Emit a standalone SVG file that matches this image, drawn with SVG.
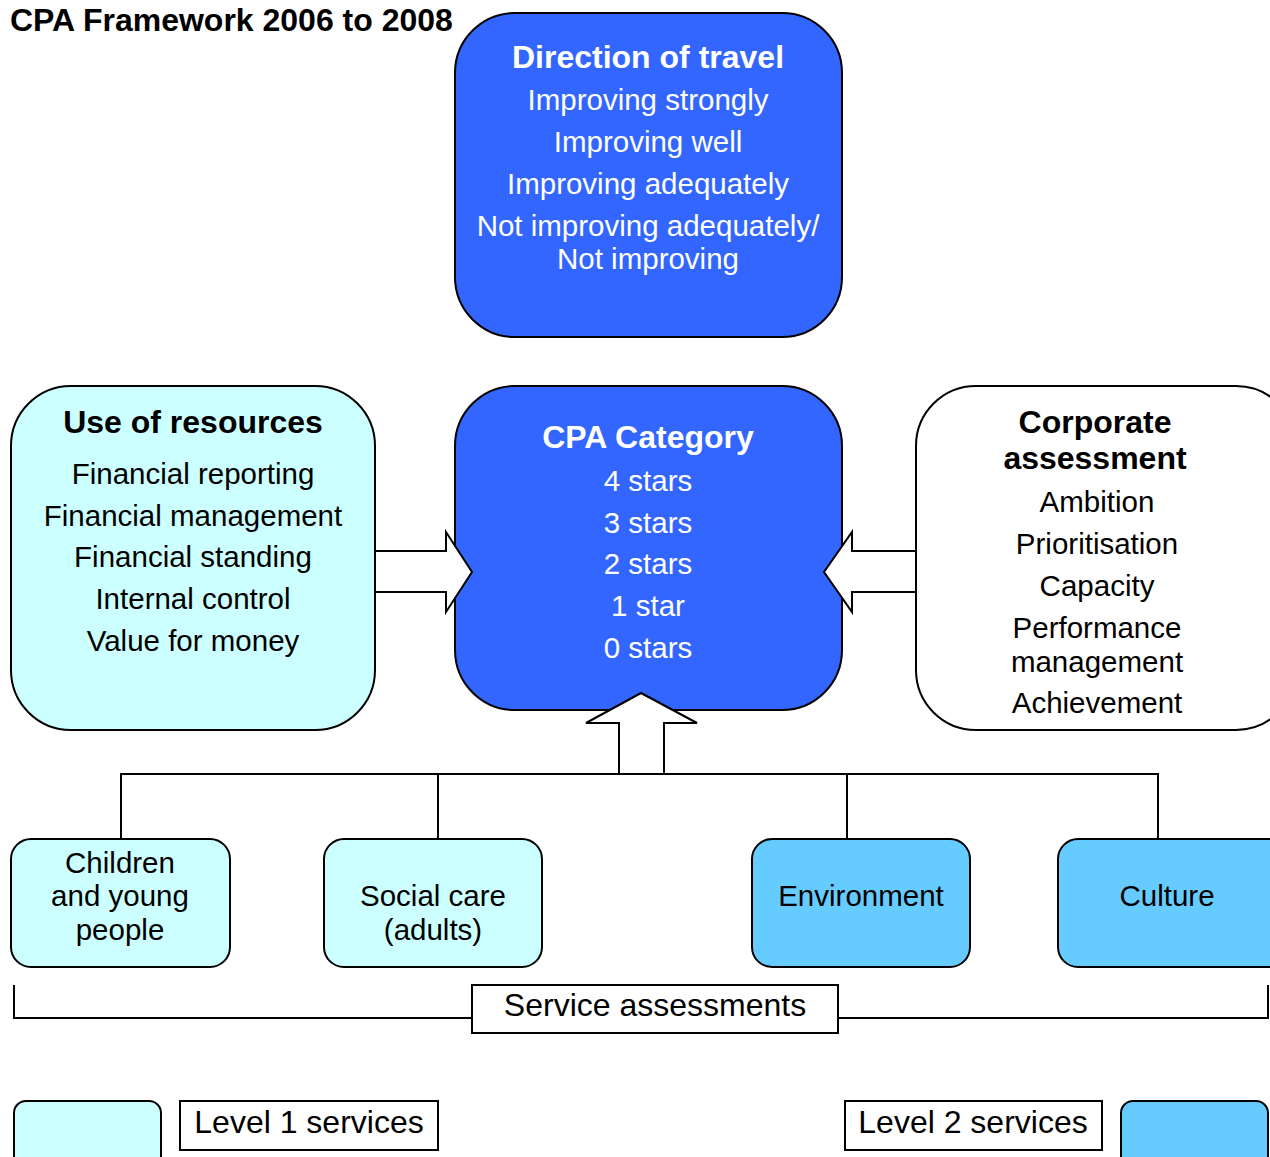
<svg xmlns="http://www.w3.org/2000/svg" width="1270" height="1157" viewBox="0 0 1270 1157">
<style>
text{font-family:"Liberation Sans",Arial,sans-serif;text-anchor:middle}
.t{font-size:29.5px}
.b{font-weight:bold;font-size:32px}
.L{font-size:32px}
.w{fill:#fff}
.k{fill:#000}
.box{stroke:#000;stroke-width:2}
.blue{fill:#3366FF}
.l1{fill:#CCFFFF}
.l2{fill:#66CCFF}
.wh{fill:#fff}
.ln{fill:none;stroke:#000;stroke-width:2}
.arr{fill:#fff;stroke:#000;stroke-width:2;stroke-linejoin:miter}
</style>
<text x="10" y="31" style="text-anchor:start;font-weight:bold;font-size:32px">CPA Framework 2006 to 2008</text>

<g id="direction">
<rect class="box blue" x="455" y="13" width="387" height="324" rx="60"/>
<text class="b w" x="648" y="68">Direction of travel</text>
<text class="t w" x="648" y="110">Improving strongly</text>
<text class="t w" x="648" y="152">Improving well</text>
<text class="t w" x="648" y="194">Improving adequately</text>
<text class="t w" x="648" y="236">Not improving adequately/</text>
<text class="t w" x="648" y="269">Not improving</text>
</g>

<g id="resources">
<rect class="box l1" x="11" y="386" width="364" height="344" rx="60"/>
<text class="b k" x="193" y="433">Use of resources</text>
<text class="t k" x="193" y="484">Financial reporting</text>
<text class="t k" x="193" y="526">Financial management</text>
<text class="t k" x="193" y="567">Financial standing</text>
<text class="t k" x="193" y="609">Internal control</text>
<text class="t k" x="193" y="651">Value for money</text>
</g>

<g id="cpa">
<rect class="box blue" x="455" y="386" width="387" height="324" rx="60"/>
<text class="b w" x="648" y="448">CPA Category</text>
<text class="t w" x="648" y="491">4 stars</text>
<text class="t w" x="648" y="533">3 stars</text>
<text class="t w" x="648" y="574">2 stars</text>
<text class="t w" x="648" y="616">1 star</text>
<text class="t w" x="648" y="658">0 stars</text>
</g>

<g id="corporate">
<rect class="box wh" x="916" y="386" width="380" height="344" rx="60"/>
<text class="b k" x="1095" y="433">Corporate</text>
<text class="b k" x="1095" y="469">assessment</text>
<text class="t k" x="1097" y="512">Ambition</text>
<text class="t k" x="1097" y="554">Prioritisation</text>
<text class="t k" x="1097" y="596">Capacity</text>
<text class="t k" x="1097" y="638">Performance</text>
<text class="t k" x="1097" y="672">management</text>
<text class="t k" x="1097" y="713">Achievement</text>
</g>

<g id="connectors">
<polygon class="arr" points="375,551 446,551 446,532 472,572 446,612 446,592 375,592"/>
<polygon class="arr" points="916,551 852,551 852,532 824,572 852,612 852,592 916,592"/>
<polygon class="arr" points="619,774 619,723 586,723 641,693 697,723 664,723 664,774"/>
<polyline class="ln" points="121,839 121,774 1158,774 1158,839"/>
<line class="ln" x1="438" y1="774" x2="438" y2="839"/>
<line class="ln" x1="847" y1="774" x2="847" y2="839"/>
<polyline class="ln" points="14,985 14,1018 472,1018"/>
<polyline class="ln" points="838,1018 1268,1018 1268,985"/>
</g>

<g id="children">
<rect class="box l1" x="11" y="839" width="219" height="128" rx="20"/>
<text class="t k" x="120" y="873">Children</text>
<text class="t k" x="120" y="906">and young</text>
<text class="t k" x="120" y="940">people</text>
</g>
<g id="socialcare">
<rect class="box l1" x="324" y="839" width="218" height="128" rx="20"/>
<text class="t k" x="433" y="906">Social care</text>
<text class="t k" x="433" y="940">(adults)</text>
</g>
<g id="environment">
<rect class="box l2" x="752" y="839" width="218" height="128" rx="20"/>
<text class="t k" x="861" y="906">Environment</text>
</g>
<g id="culture">
<rect class="box l2" x="1058" y="839" width="230" height="128" rx="20"/>
<text class="t k" x="1167" y="906">Culture</text>
</g>

<g id="service-assessments">
<rect class="box wh" x="472" y="985" width="366" height="48"/>
<text class="L k" x="655" y="1016">Service assessments</text>
</g>

<g id="legend1">
<rect class="box l1" x="14" y="1101" width="147" height="80" rx="12"/>
<rect class="box wh" x="180" y="1101" width="258" height="49"/>
<text class="L k" x="309" y="1133">Level 1 services</text>
</g>
<g id="legend2">
<rect class="box wh" x="845" y="1101" width="257" height="49"/>
<text class="L k" x="973" y="1133">Level 2 services</text>
<rect class="box l2" x="1121" y="1101" width="147" height="80" rx="12"/>
</g>
</svg>
